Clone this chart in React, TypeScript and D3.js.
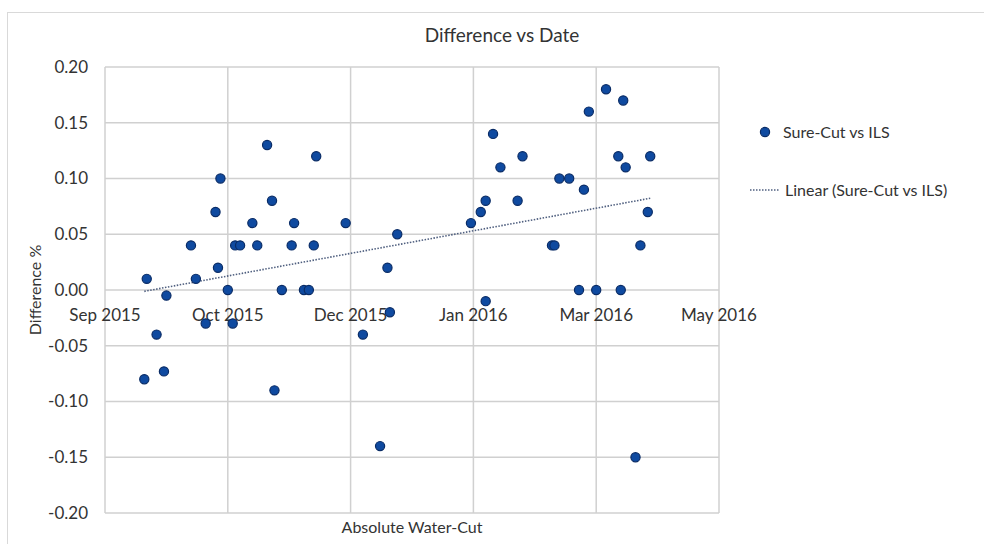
import React, { useEffect, useRef } from 'react';
import * as d3 from 'd3';

// sample dates and the difference
const sampleDates = [
  '2015-09-17', '2015-09-18', '2015-09-22', '2015-09-25', '2015-09-26',
  '2015-10-06', '2015-10-08', '2015-10-12', '2015-10-16', '2015-10-17',
  '2015-10-18', '2015-10-21', '2015-10-23', '2015-10-24', '2015-10-26',
  '2015-10-31', '2015-11-02', '2015-11-06', '2015-11-08', '2015-11-09',
  '2015-11-12', '2015-11-16', '2015-11-17', '2015-11-21', '2015-11-23',
  '2015-11-25', '2015-11-26', '2015-12-08', '2015-12-15', '2015-12-22',
  '2015-12-25', '2015-12-26', '2015-12-29', '2016-01-28', '2016-02-01',
  '2016-02-03', '2016-02-03', '2016-02-06', '2016-02-09', '2016-02-16',
  '2016-02-18', '2016-03-01', '2016-03-02', '2016-03-04', '2016-03-08',
  '2016-03-12', '2016-03-14', '2016-03-16', '2016-03-19', '2016-03-23',
  '2016-03-28', '2016-03-29', '2016-03-30', '2016-03-31', '2016-04-04',
  '2016-04-06', '2016-04-09', '2016-04-10'
];

const differences = [
  -0.08, 0.01, -0.04, -0.073, -0.005,
  0.04, 0.01, -0.03, 0.07, 0.02,
  0.10, 0.00, -0.03, 0.04, 0.04,
  0.06, 0.04, 0.13, 0.08, -0.09,
  0.00, 0.04, 0.06, 0.00, 0.00,
  0.04, 0.12, 0.06, -0.04, -0.14,
  0.02, -0.02, 0.05, 0.06, 0.07,
  0.08, -0.01, 0.14, 0.11, 0.08,
  0.12, 0.04, 0.04, 0.10, 0.10,
  0.00, 0.09, 0.16, 0.00, 0.18,
  0.12, 0.00, 0.17, 0.11, -0.15,
  0.04, 0.07, 0.12
];

// excel date axis: starts 1 Sep 2015, major unit 50 days
const axisStart = '2015-09-01';
const xTickLabels = ['Sep 2015', 'Oct 2015', 'Dec 2015', 'Jan 2016', 'Mar 2016', 'May 2016'];
const yTicks = [0.2, 0.15, 0.1, 0.05, 0, -0.05, -0.1, -0.15, -0.2];

const FONT = "Lato, 'Open Sans', sans-serif";
const TEXT = '#333333';

const App = () => {
  const svgRef = useRef<SVGSVGElement>(null);

  useEffect(() => {
    const svg = d3.select(svgRef.current);
    svg.selectAll('*').remove();

    const width = 984;
    const height = 544;
    const margin = { top: 67, right: 265, bottom: 31, left: 105 };
    const innerWidth = width - margin.left - margin.right;
    const innerHeight = height - margin.top - margin.bottom;

    const parse = d3.utcParse('%Y-%m-%d');
    const start = parse(axisStart) as Date;
    const tickDates = xTickLabels.map((_, i) => d3.utcDay.offset(start, 50 * i));

    const data = sampleDates.map((d, i) => ({ date: parse(d) as Date, value: differences[i] }));

    const xScale = d3.scaleUtc()
      .domain([tickDates[0], tickDates[tickDates.length - 1]])
      .range([0, innerWidth]);

    const yScale = d3.scaleLinear()
      .domain([-0.2, 0.2])
      .range([innerHeight, 0]);

    // chart area frame
    svg.append('rect')
      .attr('x', 7.5).attr('y', 12.5)
      .attr('width', 990).attr('height', 540)
      .attr('fill', 'white')
      .attr('stroke', '#d9d9d9');

    const g = svg.append('g')
      .attr('transform', `translate(${margin.left},${margin.top})`);

    // gridlines
    g.selectAll('.hgrid')
      .data(yTicks)
      .join('line')
      .attr('x1', 0).attr('x2', innerWidth)
      .attr('y1', (d) => yScale(d)).attr('y2', (d) => yScale(d))
      .attr('stroke', '#d0d0d0')
      .attr('stroke-width', 1.5);

    g.selectAll('.vgrid')
      .data(tickDates)
      .join('line')
      .attr('x1', (d) => xScale(d)).attr('x2', (d) => xScale(d))
      .attr('y1', 0).attr('y2', innerHeight)
      .attr('stroke', '#d0d0d0')
      .attr('stroke-width', 1.5);

    // y tick labels (plain hyphen for negatives, like Excel)
    const fmt = d3.format('.2f');
    g.selectAll('.ylab')
      .data(yTicks)
      .join('text')
      .attr('x', -17)
      .attr('y', (d) => yScale(d))
      .attr('dy', '0.35em')
      .attr('text-anchor', 'end')
      .attr('font-family', FONT)
      .attr('font-size', 17)
      .attr('fill', TEXT)
      .text((d) => fmt(d).replace('\u2212', '-'));

    // x tick labels sit next to the zero line
    g.selectAll('.xlab')
      .data(tickDates)
      .join('text')
      .attr('x', (d) => xScale(d))
      .attr('y', yScale(0) + 31)
      .attr('text-anchor', 'middle')
      .attr('font-family', FONT)
      .attr('font-size', 17)
      .attr('fill', TEXT)
      .text((_, i) => xTickLabels[i]);

    // linear trendline (least squares)
    const xs = data.map((d) => +d.date);
    const ys = data.map((d) => d.value);
    const mx = d3.mean(xs) as number;
    const my = d3.mean(ys) as number;
    const slope = d3.sum(xs, (x, i) => (x - mx) * (ys[i] - my)) / d3.sum(xs, (x) => (x - mx) ** 2);
    const intercept = my - slope * mx;
    const [x0, x1] = d3.extent(xs) as [number, number];
    const trend = [x0, x1].map((x) => ({ date: new Date(x), value: intercept + slope * x }));

    const trendLine = d3.line<{ date: Date; value: number }>()
      .x((d) => xScale(d.date))
      .y((d) => yScale(d.value));

    g.append('path')
      .datum(trend)
      .attr('d', trendLine)
      .attr('fill', 'none')
      .attr('stroke', '#4f5f7f')
      .attr('stroke-width', 1.6)
      .attr('stroke-dasharray', '1.5,1.5');

    // points
    g.selectAll('.pt')
      .data(data)
      .join('circle')
      .attr('cx', (d) => xScale(d.date))
      .attr('cy', (d) => yScale(d.value))
      .attr('r', 4.6)
      .attr('fill', '#0f4aa0')
      .attr('stroke', '#0a2c66')
      .attr('stroke-width', 1.2);

    // title
    svg.append('text')
      .attr('x', 502).attr('y', 42)
      .attr('text-anchor', 'middle')
      .attr('font-family', FONT)
      .attr('font-size', 19)
      .attr('fill', TEXT)
      .text('Difference vs Date');

    // axis titles
    svg.append('text')
      .attr('transform', 'translate(41,290) rotate(-90)')
      .attr('text-anchor', 'middle')
      .attr('font-family', FONT)
      .attr('font-size', 16)
      .attr('fill', TEXT)
      .text('Difference %');

    svg.append('text')
      .attr('x', 412).attr('y', 533)
      .attr('text-anchor', 'middle')
      .attr('font-family', FONT)
      .attr('font-size', 16)
      .attr('fill', TEXT)
      .text('Absolute Water-Cut');

    // legend
    const legend = svg.append('g').attr('transform', 'translate(750,0)');
    legend.append('circle')
      .attr('cx', 15).attr('cy', 132).attr('r', 4.6)
      .attr('fill', '#0f4aa0')
      .attr('stroke', '#0a2c66')
      .attr('stroke-width', 1.2);
    legend.append('text')
      .attr('x', 33).attr('y', 132)
      .attr('dy', '0.35em')
      .attr('font-family', FONT)
      .attr('font-size', 16)
      .attr('fill', TEXT)
      .text('Sure-Cut vs ILS');
    legend.append('line')
      .attr('x1', 0).attr('x2', 30)
      .attr('y1', 190).attr('y2', 190)
      .attr('stroke', '#4f5f7f')
      .attr('stroke-width', 1.6)
      .attr('stroke-dasharray', '1.5,1.5');
    legend.append('text')
      .attr('x', 35).attr('y', 190)
      .attr('dy', '0.35em')
      .attr('font-family', FONT)
      .attr('font-size', 16)
      .attr('fill', TEXT)
      .text('Linear (Sure-Cut vs ILS)');
  }, []);

  return (
    <svg
      ref={svgRef}
      width="984"
      height="544"
      style={{ position: 'absolute', left: 0, top: 0, background: 'white' }}
    />
  );
};

export default App;
